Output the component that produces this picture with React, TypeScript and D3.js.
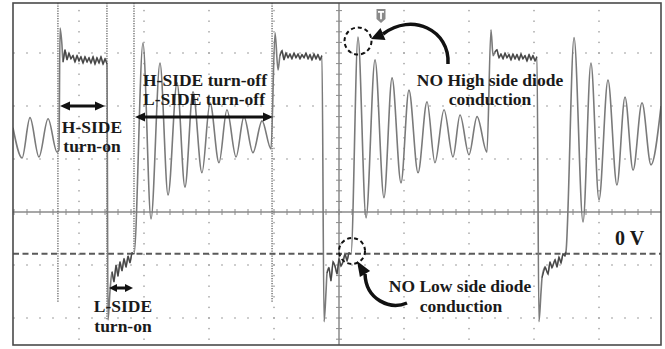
import React from 'react';
import * as d3 from 'd3';

const W = 665;
const H = 349;

// Scope settings read from the graticule: 50 ns/div, 100 V/div, 0 V marker below centre
const timePerDiv = 50;
const voltsPerDiv = 100;
const centerVolts = 79;
const hDivs = 10;
const vDivs = 8;

// Switch-node waveform, [time ns, voltage V]
const ringIn: [number, number][] = [
  [-0.8, 238], [6.2, 181], [12.3, 257], [19.2, 183], [26.2, 255], [33.1, 192], [34.6, 196],
];
const plateau1: [number, number][] = [
  [35.4, 426], [36.9, 394], [37.7, 362], [39.2, 385], [40.8, 366], [42.3, 379], [43.8, 368],
  [45.4, 374], [46.9, 362], [48.5, 374], [50.0, 364], [51.5, 372], [53.1, 360], [54.6, 372],
  [56.2, 362], [57.7, 370], [59.2, 360], [60.8, 372], [62.3, 358], [63.8, 370], [65.4, 360],
  [66.9, 372], [68.5, 358], [70.0, 368], [71.5, 358],
];
const low1: [number, number][] = [
  [72.3, -125], [73.8, -72], [75.4, -34], [76.9, -53], [78.5, -21], [80.0, -42], [81.5, -15],
  [83.1, -32], [84.6, -9], [86.2, -25], [87.7, -4], [89.2, -17], [90.8, 2], [92.3, 0],
];
const ring1: [number, number][] = [
  [99.2, 398], [105.4, 66], [112.3, 360], [118.5, 111], [125.4, 323], [131.5, 126],
  [137.7, 306], [144.6, 153], [150.8, 285], [157.7, 172], [163.8, 272], [170.8, 183],
  [176.9, 259], [183.8, 191], [190.8, 251], [197.7, 198],
];
const plateau2: [number, number][] = [
  [200.8, 417], [203.1, 347], [204.6, 374], [206.2, 383], [207.7, 366], [209.2, 379],
  [210.8, 370], [212.3, 377], [213.8, 368], [215.4, 379], [216.9, 370], [218.5, 377],
  [220.0, 368], [221.5, 376], [223.1, 370], [224.6, 379], [226.2, 368], [227.7, 376],
  [229.2, 366], [230.8, 377], [232.3, 368], [233.8, 376], [235.4, 366], [236.9, 374],
];
const low2: [number, number][] = [
  [238.5, -128], [240.0, -72], [240.8, -36], [242.3, -26], [243.8, -51], [245.4, -15],
  [246.9, -23], [248.5, -38], [250.0, -9], [251.5, -23], [253.1, -15], [254.6, 0],
  [256.2, -13], [257.7, 2], [259.2, 0],
];
const ring2: [number, number][] = [
  [264.6, 409], [270.8, 68], [277.7, 366], [284.6, 106], [290.8, 332], [297.7, 134],
  [303.8, 309], [310.8, 153], [317.7, 287], [323.8, 172], [330.8, 272], [337.7, 183],
  [343.1, 262], [350.0, 187], [356.2, 259], [363.8, 192],
];
const plateau3: [number, number][] = [
  [366.9, 423], [368.5, 374], [370.0, 381], [371.5, 385], [373.1, 370], [374.6, 377],
  [376.2, 368], [377.7, 379], [379.2, 370], [380.8, 376], [382.3, 366], [383.8, 377],
  [385.4, 368], [386.9, 376], [388.5, 366], [390.0, 377], [391.5, 368], [393.1, 374],
  [394.6, 364], [396.2, 376], [397.7, 366], [399.2, 374], [400.8, 364], [402.3, 372],
];
const low3: [number, number][] = [
  [403.8, -128], [405.4, -72], [406.2, -45], [408.5, -25], [410.8, -38], [412.3, -15],
  [413.8, -26], [416.2, -11], [417.7, -25], [419.2, -6], [420.8, -17], [422.3, 0],
  [423.8, -4], [424.6, 4],
];
const ring3: [number, number][] = [
  [430.8, 408], [437.7, 60], [443.8, 360], [450.0, 102], [456.9, 328], [463.8, 130],
  [470.0, 296], [476.2, 158], [483.1, 285], [490.0, 168], [497.7, 279],
];

// Cursor markers (time ns, lower end in V)
const markerTimes = [33.8, 71.5, 92.3, 198.5];
const markerEnds = [-91, -125, -2, -91];

const FONT = "'Liberation Serif', 'Times New Roman', serif";

export default function App() {
  const left = 13, top = 3, right = 661, bottom = 345;
  const x = d3.scaleLinear().domain([0, hDivs * timePerDiv]).range([14, 664]);
  const y = d3
    .scaleLinear()
    .domain([centerVolts - (vDivs / 2) * voltsPerDiv, centerVolts + (vDivs / 2) * voltsPerDiv])
    .range([424, 0]);

  const trace = [...ringIn, ...plateau1, ...low1, ...ring1, ...plateau2, ...low2, ...ring2, ...plateau3, ...low3, ...ring3];
  const lineGen = d3.line<[number, number]>().x((d) => x(d[0])).y((d) => y(d[1])).curve(d3.curveMonotoneX);
  const linLine = d3.line<[number, number]>().x((d) => x(d[0])).y((d) => y(d[1]));
  const noisy = [plateau1, plateau2, plateau3, low1, low2, low3].map((s) => s.slice(2));

  // graticule dots
  const dots: { cx: number; cy: number }[] = [];
  const vMin = centerVolts - (vDivs / 2) * voltsPerDiv;
  for (let k = 1; k < hDivs; k++) {
    if (k === hDivs / 2) continue;
    for (let j = 0; j <= vDivs * 5; j++) dots.push({ cx: x(k * timePerDiv), cy: y(vMin + (j * voltsPerDiv) / 5) });
  }
  for (let m = -3; m <= 3; m++) {
    if (m === 0) continue;
    for (let i = 0; i <= hDivs * 5; i++) dots.push({ cx: x((i * timePerDiv) / 5), cy: y(centerVolts + m * voltsPerDiv) });
  }
  const cx0 = x((hDivs / 2) * timePerDiv);
  const cy0 = y(centerVolts);
  const hTicks = d3.range(0, hDivs * 5 + 1).map((i) => x((i * timePerDiv) / 5));
  const vTicks = d3.range(0, vDivs * 5 + 1).map((j) => y(vMin + (j * voltsPerDiv) / 5));

  const dblArrow = (x1: number, x2: number, yy: number, hl = 10, hw = 4.5) => (
    <g>
      <line x1={x1 + hl - 1} x2={x2 - hl + 1} y1={yy} y2={yy} stroke="#111" strokeWidth={3} />
      <path d={`M${x1},${yy} L${x1 + hl},${yy - hw} L${x1 + hl},${yy + hw} Z`} fill="#111" />
      <path d={`M${x2},${yy} L${x2 - hl},${yy - hw} L${x2 - hl},${yy + hw} Z`} fill="#111" />
    </g>
  );

  const txt = (s: string, tx: number, ty: number, anchor = 'middle', size = 17.5) => (
    <text x={tx} y={ty} textAnchor={anchor} fontFamily={FONT} fontWeight="bold" fontSize={size} fill="#1a1a1a">
      {s}
    </text>
  );

  return (
    <svg width={W} height={H} style={{ position: 'absolute', left: 0, top: 0, background: '#fff' }}>
      <defs>
        <clipPath id="plot">
          <rect x={left} y={top} width={right - left} height={bottom - top} />
        </clipPath>
      </defs>
      <rect x={0} y={0} width={W} height={H} fill="#fff" />
      <g clipPath="url(#plot)">
        {dots.map((d, i) => (
          <rect key={i} x={d.cx - 0.7} y={d.cy - 0.7} width={1.4} height={1.4} fill="#9c9c9c" />
        ))}
        <line x1={left} x2={right} y1={cy0} y2={cy0} stroke="#8a8a8a" strokeWidth={1.5} />
        <line x1={cx0} x2={cx0} y1={top} y2={bottom} stroke="#8a8a8a" strokeWidth={1.5} />
        {hTicks.map((tx, i) => (
          <line key={'h' + i} x1={tx} x2={tx} y1={cy0 - 3} y2={cy0 + 3} stroke="#8a8a8a" strokeWidth={1} />
        ))}
        {vTicks.map((ty, i) => (
          <line key={'v' + i} x1={cx0 - 3} x2={cx0 + 3} y1={ty} y2={ty} stroke="#8a8a8a" strokeWidth={1} />
        ))}
        {markerTimes.map((t, i) => (
          <line key={'m' + i} x1={x(t)} x2={x(t)} y1={top} y2={y(markerEnds[i])} stroke="#444" strokeWidth={1.1} strokeDasharray="1.2,1.3" />
        ))}
        <line x1={left} x2={right} y1={y(0)} y2={y(0)} stroke="#5a5a5a" strokeWidth={2} strokeDasharray="6,3.5" />
        <path d={lineGen(trace) || ''} fill="none" stroke="#7a7a7a" strokeWidth={1.6} />
        {noisy.map((s, i) => (
          <path key={'n' + i} d={linLine(s) || ''} fill="none" stroke="#444" strokeWidth={1.1} />
        ))}
      </g>
      <rect x={left} y={top} width={right - left} height={bottom - top} fill="none" stroke="#4a4a4a" strokeWidth={1.6} />

      {/* trigger marker */}
      <g transform="translate(381,9)">
        <path d="M-4.5,0 h9 v10 l-4.5,4 l-4.5,-4 Z" fill="#8a8a8a" />
        <path d="M-3,2 h6 v1.8 h-2.1 v6.5 h-1.8 v-6.5 h-2.1 Z" fill="#fff" />
      </g>

      {/* annotations */}
      {dblArrow(60, 105, 106)}
      {txt('H-SIDE', 92, 133)}
      {txt('turn-on', 92, 152)}

      {dblArrow(135, 273, 117)}
      {txt('H-SIDE turn-off', 143, 86, 'start')}
      {txt('L-SIDE turn-off', 143, 105, 'start')}

      {dblArrow(109, 133, 288, 8, 4)}
      {txt('L-SIDE', 123, 312)}
      {txt('turn-on', 123, 332)}

      <circle cx={358} cy={41} r={13.5} fill="none" stroke="#111" strokeWidth={2} strokeDasharray="4,3" />
      <path d="M448,64 C450,30 412,12 383,34" fill="none" stroke="#111" strokeWidth={3.5} />
      <path d="M371,39 L385.5,40 L380.5,28 Z" fill="#111" />
      {txt('NO High side diode', 490, 86)}
      {txt('conduction', 490, 105)}

      <circle cx={352} cy={251} r={13} fill="none" stroke="#111" strokeWidth={2} strokeDasharray="4,3" />
      <path d="M407,303 C390,310 366,300 365,274" fill="none" stroke="#111" strokeWidth={3.5} />
      <path d="M357,261 L370.1,270.9 L359.9,277.1 Z" fill="#111" />
      {txt('NO Low side diode', 460, 292)}
      {txt('conduction', 461, 312)}

      {txt('0 V', 615, 245, 'start', 20)}
    </svg>
  );
}
